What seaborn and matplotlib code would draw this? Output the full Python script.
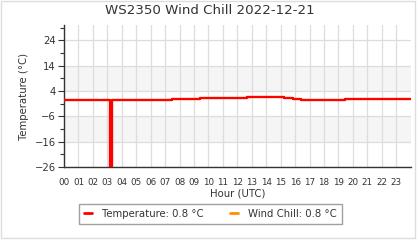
import matplotlib
matplotlib.use("Agg")
import matplotlib.pyplot as plt
import seaborn as sns
import pandas as pd
from matplotlib.patches import Rectangle
from matplotlib.lines import Line2D
from matplotlib.ticker import FixedLocator

# ---- data ----
hours = [0, 3.2, 3.3, 7.5, 9.4, 12.7, 15.2, 15.85, 16.4, 19.45, 24]
temperature = [0.6, -40, 0.4, 0.8, 1.2, 1.6, 1.2, 0.8, 0.4, 0.8, 0.8]
wind_chill = [0.6, -40, 0.4, 0.8, 1.2, 1.6, 1.2, 0.8, 0.4, 0.8, 0.8]
current_temp = 0.8
current_chill = 0.8
x_labels = [f"{h:02d}" for h in range(24)]
y_ticks = [-26, -16, -6, 4, 14, 24]
title = "WS2350 Wind Chill 2022-12-21"

sns.set_theme(style="white")
plt.rcParams["font.family"] = ["DejaVu Sans"]

df = pd.concat([
    pd.DataFrame({"hour": hours, "value": wind_chill, "series": "chill"}),
    pd.DataFrame({"hour": hours, "value": temperature, "series": "temp"}),
])

fig = plt.figure(figsize=(4.2, 2.4), dpi=100)
ax = fig.add_axes([64/420, 1-167/240, (410.7-64)/420, (167-25)/240])

# background bands
for lo, hi in [(4, 14), (-16, -6)]:
    ax.axhspan(lo, hi, color="#f5f5f5", zorder=0, lw=0)

sns.lineplot(data=df[df.series == "chill"], x="hour", y="value", ax=ax,
             color="#ff8c00", lw=1.6, drawstyle="steps-post", estimator=None,
             sort=False, legend=False, zorder=3)
sns.lineplot(data=df[df.series == "temp"], x="hour", y="value", ax=ax,
             color="#ff0000", lw=1.6, drawstyle="steps-post", estimator=None,
             sort=False, legend=False, zorder=4)

ax.set_xlim(0, 24)
ax.set_ylim(-26, 30)
ax.set_xticks(range(24))
ax.set_xticklabels(x_labels)
ax.yaxis.set_major_locator(FixedLocator(y_ticks))
ax.yaxis.set_minor_locator(FixedLocator([t + 5 for t in y_ticks]))

ax.grid(True, which="major", color="#dddddd", lw=0.9, zorder=1)
ax.set_axisbelow(True)
for s in ["top", "right"]:
    ax.spines[s].set_visible(False)
for s in ["left", "bottom"]:
    ax.spines[s].set_color("#333333")
    ax.spines[s].set_linewidth(1)

ax.tick_params(axis="y", which="major", left=True, length=4, width=0.8,
               color="#333333", labelsize=7.2, labelcolor="#333333", pad=2)
ax.tick_params(axis="y", which="minor", left=True, length=3, width=0.8,
               color="#333333")
ax.tick_params(axis="x", bottom=False, labelsize=6.3, labelcolor="#333333", pad=2)

ax.set_xlabel("Hour (UTC)", fontsize=7.3, color="#333333", labelpad=1)
ax.set_ylabel("Temperature (°C)", fontsize=7.3, color="#333333", labelpad=4)

fig.text(0.5, 1-11/240, title, ha="center", va="center", fontsize=9.6,
         color="#333333")

handles = [Line2D([], [], color="#ff0000", lw=2),
           Line2D([], [], color="#ff8c00", lw=2)]
labels = [f"Temperature: {current_temp:.1f} °C", f"Wind Chill: {current_chill:.1f} °C"]
leg = fig.legend(handles, labels, loc="center", bbox_to_anchor=(210.5/420, 1-214/240),
                 ncol=2, fontsize=7.3, frameon=True, fancybox=False,
                 edgecolor="#888888", handlelength=0.8, handletextpad=1.0,
                 columnspacing=2.6, borderpad=0.5, borderaxespad=0)
leg.get_frame().set_linewidth(1)
for t in leg.get_texts():
    t.set_color("#333333")

fig.patches.append(Rectangle((0.5/420, 2/240), 414/420, 237.5/240,
                             transform=fig.transFigure, fill=False,
                             edgecolor="#dddddd", lw=1))

fig.savefig("out.png", dpi=100)
